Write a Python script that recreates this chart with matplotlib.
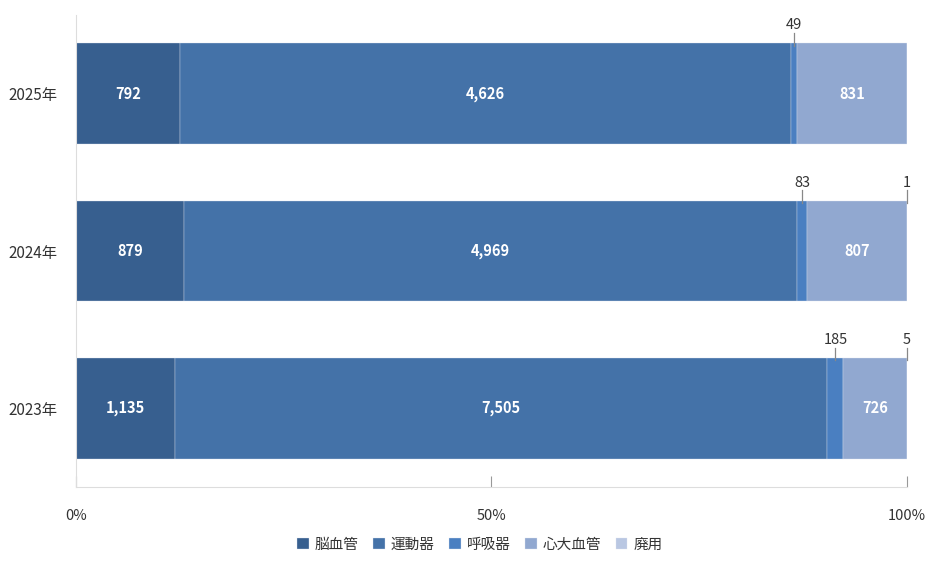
import numpy as np
import matplotlib.pyplot as plt

plt.rcParams['font.family'] = ['Noto Sans CJK JP', 'DejaVu Sans']

years = ['2025年', '2024年', '2023年']
series = ['脳血管', '運動器', '呼吸器', '心大血管', '廃用']
noukekkan = [792, 879, 1135]
undouki = [4626, 4969, 7505]
kokyuki = [49, 83, 185]
shindaikekkan = [831, 807, 726]
haiyou = [0, 1, 5]
colors = ['#375f8f', '#4472a8', '#4a7fc1', '#91a8d0', '#b9c7e2']

values = np.array([noukekkan, undouki, kokyuki, shindaikekkan, haiyou], dtype=float)
totals = values.sum(axis=0)
shares = values / totals * 100

fig = plt.figure(figsize=(9.46, 5.67), dpi=100)
ax = fig.add_axes([0.0803, 0.1411, 0.8785, 0.8324])

y = np.arange(len(years))
left = np.zeros(len(years))
for i, name in enumerate(series):
    ax.barh(y, shares[i], left=left, height=0.64, color=colors[i],
            edgecolor='#dde3ee', linewidth=0.25, label=name)
    for j in range(len(years)):
        v = values[i, j]
        if v == 0:
            continue
        cx = left[j] + shares[i, j] / 2
        if shares[i, j] > 5:
            ax.text(cx, y[j], f'{int(v):,}', ha='center', va='center',
                    color='white', fontsize=10.5, fontweight='bold')
        else:
            top = y[j] - 0.32
            ax.plot([cx, cx], [top + 0.015, top - 0.065], color='#888888', lw=0.9,
                    clip_on=False)
            ax.text(cx, top - 0.07, f'{int(v):,}', ha='center', va='bottom',
                    color='#333333', fontsize=10.5)
    left += shares[i]

ax.set_ylim(2.5, -0.5)
ax.set_xlim(0, 100)
ax.set_yticks(y)
ax.set_yticklabels(years, fontsize=11, color='#333333')
ax.set_xticks([0, 50, 100])
ax.set_xticklabels(['0%', '50%', '100%'], fontsize=10.5, color='#333333')
ax.tick_params(axis='y', length=0, pad=13)
ax.tick_params(axis='x', direction='in', length=8, color='#999999', pad=16)

for s in ['top', 'right']:
    ax.spines[s].set_visible(False)
ax.spines['left'].set_color('#dddddd')
ax.spines['bottom'].set_color('#dddddd')

ax.legend(loc='upper center', bbox_to_anchor=(0.486, -0.08), ncol=5, frameon=False,
          fontsize=10.5, handlelength=0.8, handleheight=0.8, handletextpad=0.4,
          columnspacing=1.0, labelcolor='#333333')

fig.savefig('out.png', dpi=100)
